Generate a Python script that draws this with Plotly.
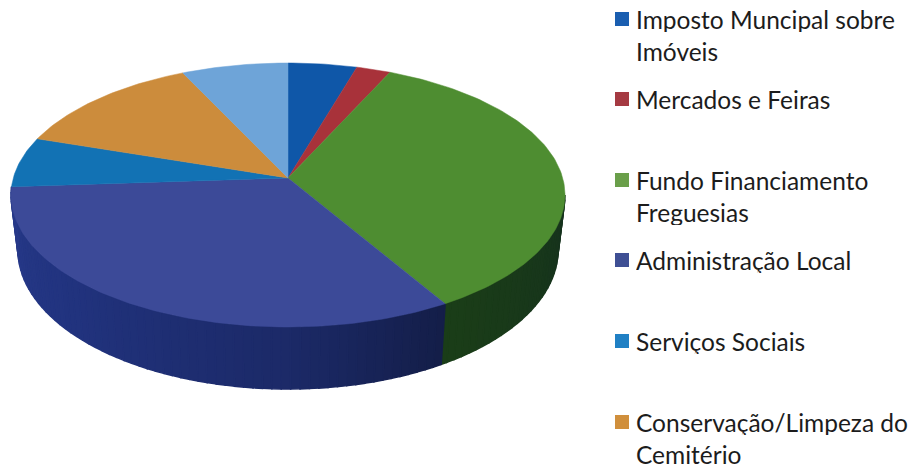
import numpy as np
import plotly.graph_objects as go

categories = ["Imposto Muncipal sobre<br>Imóveis", "Mercados e Feiras", "Fundo Financiamento<br>Freguesias",
              "Administração Local", "Serviços Sociais", "Conservação/Limpeza do<br>Cemitério", "Outros"]
values = [4.0, 2.0, 34.4, 35.6, 6.0, 11.8, 6.2]
colors = ["#0f57a8", "#a8323a", "#4e8d31", "#3c4a98", "#1272b4", "#cc8c3c", "#6ea4d8"]
legend_colors = ["#1a5eb0", "#a53a42", "#6a9f4a", "#3f4f94", "#2080c4", "#d08f3c"]
legend_y = [19, 99, 180, 260, 341, 422]

# projection of the 3D pie, in pixels
APEX = (288, 178)
TOP = dict(cx=288, cy=195, rx=277, ry=132)
BOT = dict(cx=288, cy=250, rx=270, ry=139)
LINE_GAP = 31.5


def pt(e, deg):
    t = np.radians(deg)
    return e["cx"] + e["rx"] * np.sin(t), e["cy"] - e["ry"] * np.cos(t)


def mix(stops, d):
    ds = [s[0] for s in stops]
    c = [np.interp(d, ds, [s[1][i] for s in stops]) for i in range(3)]
    return "rgb(%d,%d,%d)" % tuple(c)


cum = np.concatenate([[0], np.cumsum(values)]) / sum(values) * 360
fig = go.Figure()


def poly(xs, ys, color, width=0.5):
    fig.add_trace(go.Scatter(x=list(xs), y=list(ys), mode="lines", fill="toself", fillcolor=color,
                             line=dict(color=color, width=width), hoverinfo="skip", showlegend=False))


GREEN_WALL = [(90, (22, 50, 30)), (145, (27, 62, 24))]
NAVY_WALL = [(145, (20, 30, 72)), (180, (28, 42, 104)), (235, (34, 52, 128)), (274, (40, 58, 138))]

for i, wall in ((2, GREEN_WALL), (3, NAVY_WALL)):
    a0, a1 = max(cum[i], 90), min(cum[i + 1], 274)
    edges = np.arange(a0, a1 + 1e-6, 2.0)
    if edges[-1] < a1:
        edges = np.append(edges, a1)
    for d0, d1 in zip(edges[:-1], edges[1:]):
        p = [pt(TOP, d0), pt(TOP, d1), pt(BOT, d1), pt(BOT, d0), pt(TOP, d0)]
        poly([q[0] for q in p], [q[1] for q in p], mix(wall, (d0 + d1) / 2), width=1.5)

for i, color in enumerate(colors):
    ts = np.linspace(cum[i], cum[i + 1], max(int(cum[i + 1] - cum[i]) + 2, 3))
    xs, ys = pt(TOP, ts)
    poly(np.r_[APEX[0], xs, APEX[0]], np.r_[APEX[1], ys, APEX[1]], color)

fig.add_trace(go.Scatter(x=[622] * len(legend_y), y=legend_y, mode="markers",
                         marker=dict(symbol="square", size=14, color=legend_colors, line=dict(width=0)),
                         hoverinfo="skip", showlegend=False))

annotations = []
for c, y in zip(categories, legend_y):
    for k, part in enumerate(c.split("<br>")):
        annotations.append(dict(x=634, y=y + k * LINE_GAP, xref="x", yref="y", text=part, showarrow=False,
                                xanchor="left", yanchor="middle", align="left", height=26,
                                font=dict(family="Lato", size=24.5, color="#1c1c1c")))

fig.update_layout(width=912, height=467, margin=dict(l=0, r=0, t=0, b=0), paper_bgcolor="white",
                  plot_bgcolor="white", annotations=annotations,
                  xaxis=dict(range=[0, 912], visible=False, fixedrange=True),
                  yaxis=dict(range=[467, 0], visible=False, fixedrange=True))
fig.write_html("out.html", config=dict(displayModeBar=False),
               post_script="document.documentElement.style.margin='0';document.body.style.margin='0';document.body.style.overflow='hidden';")
